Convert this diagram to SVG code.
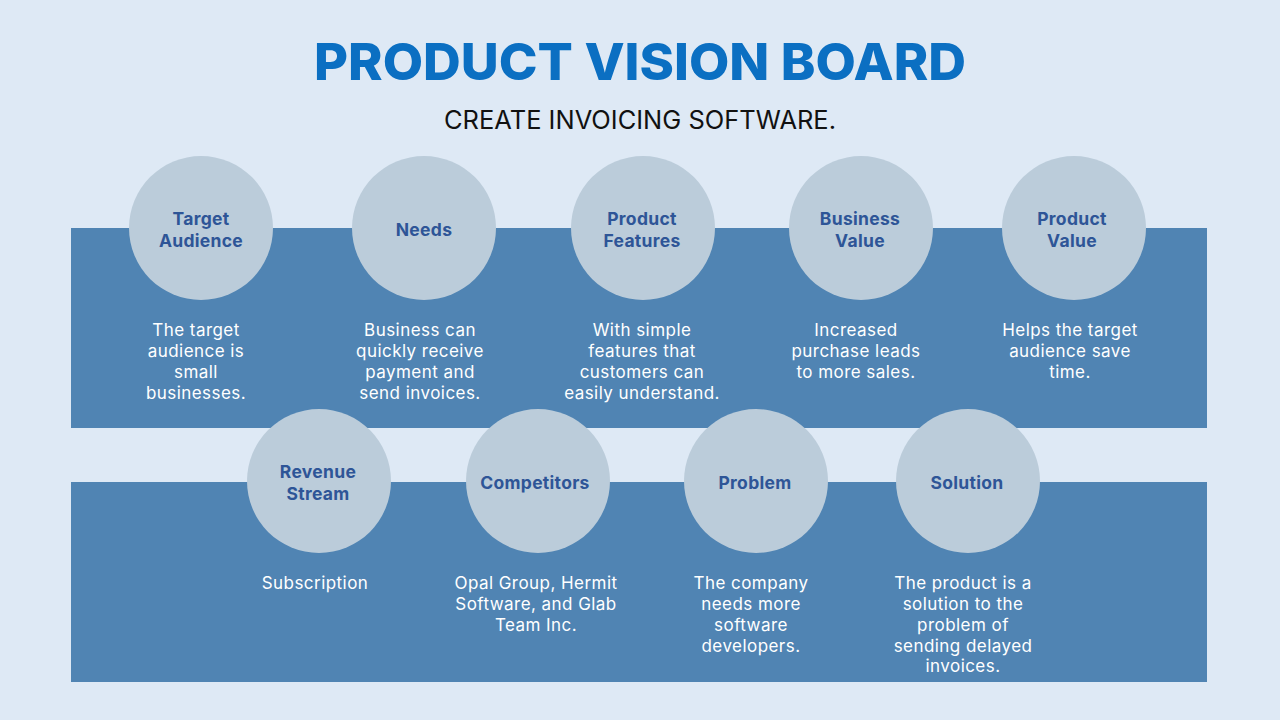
<svg xmlns="http://www.w3.org/2000/svg" width="1280" height="720" viewBox="0 0 1280 720">
<style>
.band{fill:#5084B3}
.circ{fill:#BBCCDA}
.lbl{font-family:Inter,"Noto Sans",sans-serif;font-weight:700;font-size:17.5px;letter-spacing:0.3px;fill:#2E5597;text-anchor:middle}
.body{font-family:Inter,"Noto Sans",sans-serif;font-size:17px;letter-spacing:0.45px;fill:#FFFFFF;text-anchor:middle}
</style>
<rect x="0" y="0" width="1280" height="720" fill="#DEE9F5"/>
<text x="640" y="80" font-family="Inter,'Noto Sans',sans-serif" font-weight="800" font-size="51" fill="#0B6FC2" text-anchor="middle" textLength="652" lengthAdjust="spacingAndGlyphs">PRODUCT VISION BOARD</text>
<text x="640" y="129" font-family="Inter,'Noto Sans',sans-serif" font-size="25" fill="#111111" text-anchor="middle" textLength="392" lengthAdjust="spacingAndGlyphs">CREATE INVOICING SOFTWARE.</text>
<g id="bands">
<rect class="band" x="71" y="228" width="1136" height="200"/>
<rect class="band" x="71" y="482" width="1136" height="200"/>
</g>
<g id="connectors"></g>
<g id="target-audience">
<circle class="circ" cx="201" cy="228" r="72"/>
<text class="lbl" x="201" y="225">Target</text>
<text class="lbl" x="201" y="247">Audience</text>
<text class="body" x="196" y="336">The target</text>
<text class="body" x="196" y="357">audience is</text>
<text class="body" x="196" y="378">small</text>
<text class="body" x="196" y="399">businesses.</text>
</g>
<g id="needs">
<circle class="circ" cx="424" cy="228" r="72"/>
<text class="lbl" x="424" y="236">Needs</text>
<text class="body" x="420" y="336">Business can</text>
<text class="body" x="420" y="357">quickly receive</text>
<text class="body" x="420" y="378">payment and</text>
<text class="body" x="420" y="399">send invoices.</text>
</g>
<g id="product-features">
<circle class="circ" cx="643" cy="228" r="72"/>
<text class="lbl" x="642" y="225">Product</text>
<text class="lbl" x="642" y="247">Features</text>
<text class="body" x="642" y="336">With simple</text>
<text class="body" x="642" y="357">features that</text>
<text class="body" x="642" y="378">customers can</text>
<text class="body" x="642" y="399">easily understand.</text>
</g>
<g id="business-value">
<circle class="circ" cx="861" cy="228" r="72"/>
<text class="lbl" x="860" y="225">Business</text>
<text class="lbl" x="860" y="247">Value</text>
<text class="body" x="856" y="336">Increased</text>
<text class="body" x="856" y="357">purchase leads</text>
<text class="body" x="856" y="378">to more sales.</text>
</g>
<g id="product-value">
<circle class="circ" cx="1074" cy="228" r="72"/>
<text class="lbl" x="1072" y="225">Product</text>
<text class="lbl" x="1072" y="247">Value</text>
<text class="body" x="1070" y="336">Helps the target</text>
<text class="body" x="1070" y="357">audience save</text>
<text class="body" x="1070" y="378">time.</text>
</g>
<g id="revenue-stream">
<circle class="circ" cx="319" cy="481" r="72"/>
<text class="lbl" x="318" y="478">Revenue</text>
<text class="lbl" x="318" y="500">Stream</text>
<text class="body" x="315" y="589">Subscription</text>
</g>
<g id="competitors">
<circle class="circ" cx="538" cy="481" r="72"/>
<text class="lbl" x="535" y="489">Competitors</text>
<text class="body" x="536" y="589">Opal Group, Hermit</text>
<text class="body" x="536" y="610">Software, and Glab</text>
<text class="body" x="536" y="631">Team Inc.</text>
</g>
<g id="problem">
<circle class="circ" cx="756" cy="481" r="72"/>
<text class="lbl" x="755" y="489">Problem</text>
<text class="body" x="751" y="589">The company</text>
<text class="body" x="751" y="610">needs more</text>
<text class="body" x="751" y="631">software</text>
<text class="body" x="751" y="652">developers.</text>
</g>
<g id="solution">
<circle class="circ" cx="968" cy="481" r="72"/>
<text class="lbl" x="967" y="489">Solution</text>
<text class="body" x="963" y="589">The product is a</text>
<text class="body" x="963" y="610">solution to the</text>
<text class="body" x="963" y="631">problem of</text>
<text class="body" x="963" y="652">sending delayed</text>
<text class="body" x="963" y="672">invoices.</text>
</g>
</svg>
